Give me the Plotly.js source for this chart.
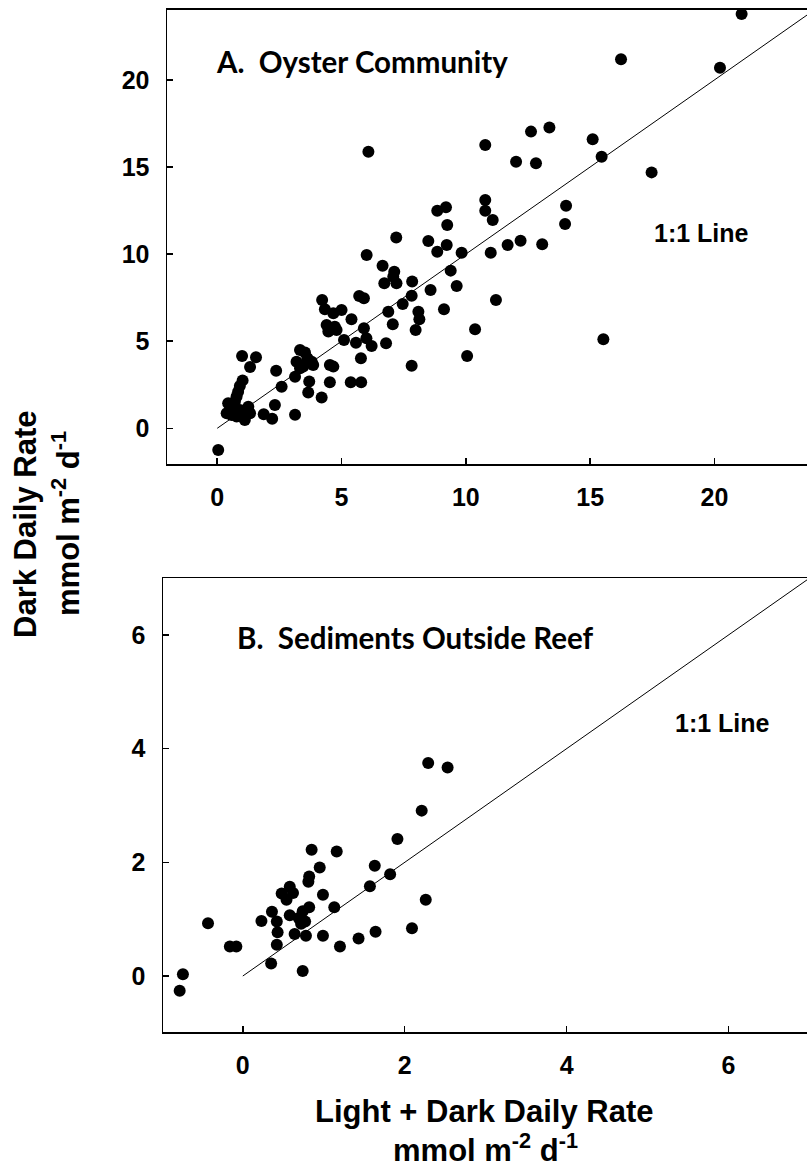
<!DOCTYPE html>
<html>
<head>
<meta charset="utf-8">
<script src="https://cdn.plot.ly/plotly-3.0.1.min.js"></script>
<style>
  html, body { margin: 0; padding: 0; background: #ffffff; }
  #chart { width: 807px; height: 1169px; }
</style>
</head>
<body>
<div id="chart"></div>
<script>
// Panel A: oyster community (light+dark rate vs dark rate)
const oysterLightDark = [
  21.09, 16.24, 20.22, 12.62, 13.36, 10.78, 6.08, 12.02, 12.82, 15.10,
  15.46, 17.47, 10.78, 10.78, 11.08, 14.03, 13.99, 8.85, 9.20, 9.25,
  7.20, 8.49, 8.85, 9.23, 9.83, 11.00, 11.68, 12.20, 13.07, 11.21,
  10.37, 10.05, 15.53, 6.01, 6.65, 7.12, 7.08, 6.72, 7.21, 7.84,
  9.39, 9.63, 8.58, 7.82, 7.46, 8.09, 8.13, 7.98, 9.12, 6.88,
  7.06, 6.79, 7.82, 5.71, 5.90, 5.40, 5.90, 6.00, 6.21, 5.58,
  5.10, 5.78, 5.37, 5.79, 4.53, 4.22, 4.33, 4.67, 5.00, 4.40,
  4.73, 4.47, 4.80, 4.53, 4.67, 3.70, 3.66, 4.20, 3.33, 3.53,
  3.63, 3.80, 3.86, 3.46, 3.19, 3.13, 3.13, 2.59, 2.37, 2.32,
  2.21, 1.87, 1.00, 1.56, 1.32, 1.02, 0.91, 0.84, 0.78, 0.71,
  0.64, 0.44, 0.38, 0.58, 0.91, 1.05, 1.25, 1.32, 1.11, 0.78,
  0.04, 3.33
];
const oysterDark = [
  23.78, 21.18, 20.70, 17.03, 17.26, 16.26, 15.88, 15.30, 15.21, 16.59,
  15.59, 14.69, 13.10, 12.49, 11.96, 12.78, 11.73, 12.49, 12.69, 11.67,
  10.95, 10.75, 10.14, 10.52, 10.08, 10.08, 10.52, 10.77, 10.56, 7.37,
  5.68, 4.15, 5.11, 9.95, 9.33, 8.99, 8.70, 8.32, 8.32, 8.42,
  9.05, 8.17, 7.94, 7.61, 7.14, 6.69, 6.26, 5.64, 6.83, 6.69,
  5.97, 4.88, 3.59, 7.59, 7.46, 6.26, 5.74, 5.17, 4.72, 4.91,
  5.07, 4.02, 2.64, 2.64, 2.64, 7.37, 6.83, 6.60, 6.79, 5.93,
  5.83, 5.55, 5.64, 3.63, 3.54, 2.68, 2.05, 1.77, 4.49, 4.35,
  4.02, 3.82, 3.63, 3.54, 3.82, 2.96, 0.78, 2.39, 3.30, 1.34,
  0.55, 0.80, 4.15, 4.08, 3.52, 2.75, 2.43, 2.10, 1.82, 1.53,
  1.34, 1.44, 0.86, 0.76, 1.05, 0.86, 1.24, 0.86, 0.48, 0.67,
  -1.25, 3.44
];

// Panel B: sediments outside the reef
const sedimentLightDark = [
  2.29, 2.53, 2.21, 1.91, 0.85, 1.16, 0.95, 1.63, 1.82, 1.57,
  0.82, 0.81, 0.99, 0.58, 0.48, 0.62, 0.54, 1.13, 2.26, 0.36,
  0.23, 0.42, 0.58, 0.69, 0.74, 0.82, 0.77, 0.72, 0.43, 0.64,
  0.78, 0.99, 0.42, 1.20, 1.43, 1.64, 2.09, 0.35, 0.74, -0.43,
  -0.16, -0.08, -0.74, -0.78
];
const sedimentDark = [
  3.75, 3.67, 2.91, 2.41, 2.22, 2.19, 1.91, 1.94, 1.79, 1.58,
  1.75, 1.66, 1.43, 1.57, 1.45, 1.46, 1.34, 1.21, 1.34, 1.13,
  0.97, 0.96, 1.07, 1.02, 1.14, 1.21, 0.96, 0.92, 0.77, 0.74,
  0.71, 0.71, 0.55, 0.52, 0.66, 0.78, 0.84, 0.22, 0.09, 0.93,
  0.52, 0.52, 0.03, -0.26
];

// 1:1 reference lines
const identityA = [0, 30];
const identityB = [0, 8];

const ticksA = [0, 5, 10, 15, 20];
const ticksB = [0, 2, 4, 6];

const W = 807, H = 1169;
const px = v => v / W;
const py = v => 1 - v / H;

const tickFont = { family: 'Liberation Sans, Arial, sans-serif', size: 25, color: '#000', weight: 700 };
const titleFont = { family: 'Liberation Sans, Arial, sans-serif', size: 31, color: '#000', weight: 700 };
const panelFont = { family: 'Lato, Calibri, sans-serif', size: 29.5, color: '#000', weight: 700 };

const dotStyle = { color: '#000', size: 12, symbol: 'circle', line: { width: 0 } };
const lineStyle = { color: '#000', width: 1 };

const traces = [
  { x: identityA, y: identityA, xaxis: 'x', yaxis: 'y', mode: 'lines', line: lineStyle, hoverinfo: 'skip' },
  { x: oysterLightDark, y: oysterDark, xaxis: 'x', yaxis: 'y', mode: 'markers', marker: dotStyle },
  { x: identityB, y: identityB, xaxis: 'x2', yaxis: 'y2', mode: 'lines', line: lineStyle, hoverinfo: 'skip' },
  { x: sedimentLightDark, y: sedimentDark, xaxis: 'x2', yaxis: 'y2', mode: 'markers', marker: dotStyle }
];

const axisCommon = {
  showgrid: false, zeroline: false, showline: true, linecolor: '#000', linewidth: 1.5,
  ticks: 'inside', ticklen: 6, tickwidth: 1.5, tickcolor: '#000',
  tickfont: tickFont
};

const layout = {
  width: W, height: H,
  margin: { l: 0, r: 0, t: 0, b: 0 },
  paper_bgcolor: '#fff', plot_bgcolor: '#fff',
  showlegend: false,
  xaxis: Object.assign({}, axisCommon, {
    domain: [px(167), 1], range: [-2.02, 23.72], tickvals: ticksA,
    mirror: true, anchor: 'y', ticklabelstandoff: 10
  }),
  yaxis: Object.assign({}, axisCommon, {
    domain: [py(464), py(9.5)], range: [-2.05, 24.04], tickvals: ticksA,
    anchor: 'x', ticklabelstandoff: 11
  }),
  xaxis2: Object.assign({}, axisCommon, {
    domain: [px(163), 1], range: [-0.986, 6.97], tickvals: ticksB,
    mirror: true, anchor: 'y2', ticklabelstandoff: 10
  }),
  yaxis2: Object.assign({}, axisCommon, {
    domain: [py(1032), py(578)], range: [-0.985, 7.003], tickvals: ticksB,
    anchor: 'x2', ticklabelstandoff: 11
  }),
  annotations: [
    { text: 'A.  Oyster Community', xref: 'paper', yref: 'paper', x: px(214), y: py(61),
      xanchor: 'left', yanchor: 'middle', showarrow: false, font: panelFont },
    { text: '1:1 Line', xref: 'paper', yref: 'paper', x: px(652), y: py(233),
      xanchor: 'left', yanchor: 'middle', showarrow: false, font: tickFont },
    { text: 'B.  Sediments Outside Reef', xref: 'paper', yref: 'paper', x: px(235), y: py(637),
      xanchor: 'left', yanchor: 'middle', showarrow: false, font: panelFont },
    { text: '1:1 Line', xref: 'paper', yref: 'paper', x: px(673), y: py(723),
      xanchor: 'left', yanchor: 'middle', showarrow: false, font: tickFont },
    { text: 'Dark Daily Rate', xref: 'paper', yref: 'paper', x: px(25), y: py(525),
      xanchor: 'center', yanchor: 'middle', textangle: -90, showarrow: false, font: titleFont },
    { text: 'mmol m<sup>-2</sup> d<sup>-1</sup>', xref: 'paper', yref: 'paper', x: px(66), y: py(524),
      xanchor: 'center', yanchor: 'middle', textangle: -90, showarrow: false, font: titleFont },
    { text: 'Light + Dark Daily Rate', xref: 'paper', yref: 'paper', x: px(484), y: py(1111),
      xanchor: 'center', yanchor: 'middle', showarrow: false, font: titleFont },
    { text: 'mmol m<sup>-2</sup> d<sup>-1</sup>', xref: 'paper', yref: 'paper', x: px(485), y: py(1148),
      xanchor: 'center', yanchor: 'middle', showarrow: false, font: titleFont }
  ]
};

Plotly.newPlot('chart', traces, layout, { displayModeBar: false, staticPlot: true });
</script>
</body>
</html>
